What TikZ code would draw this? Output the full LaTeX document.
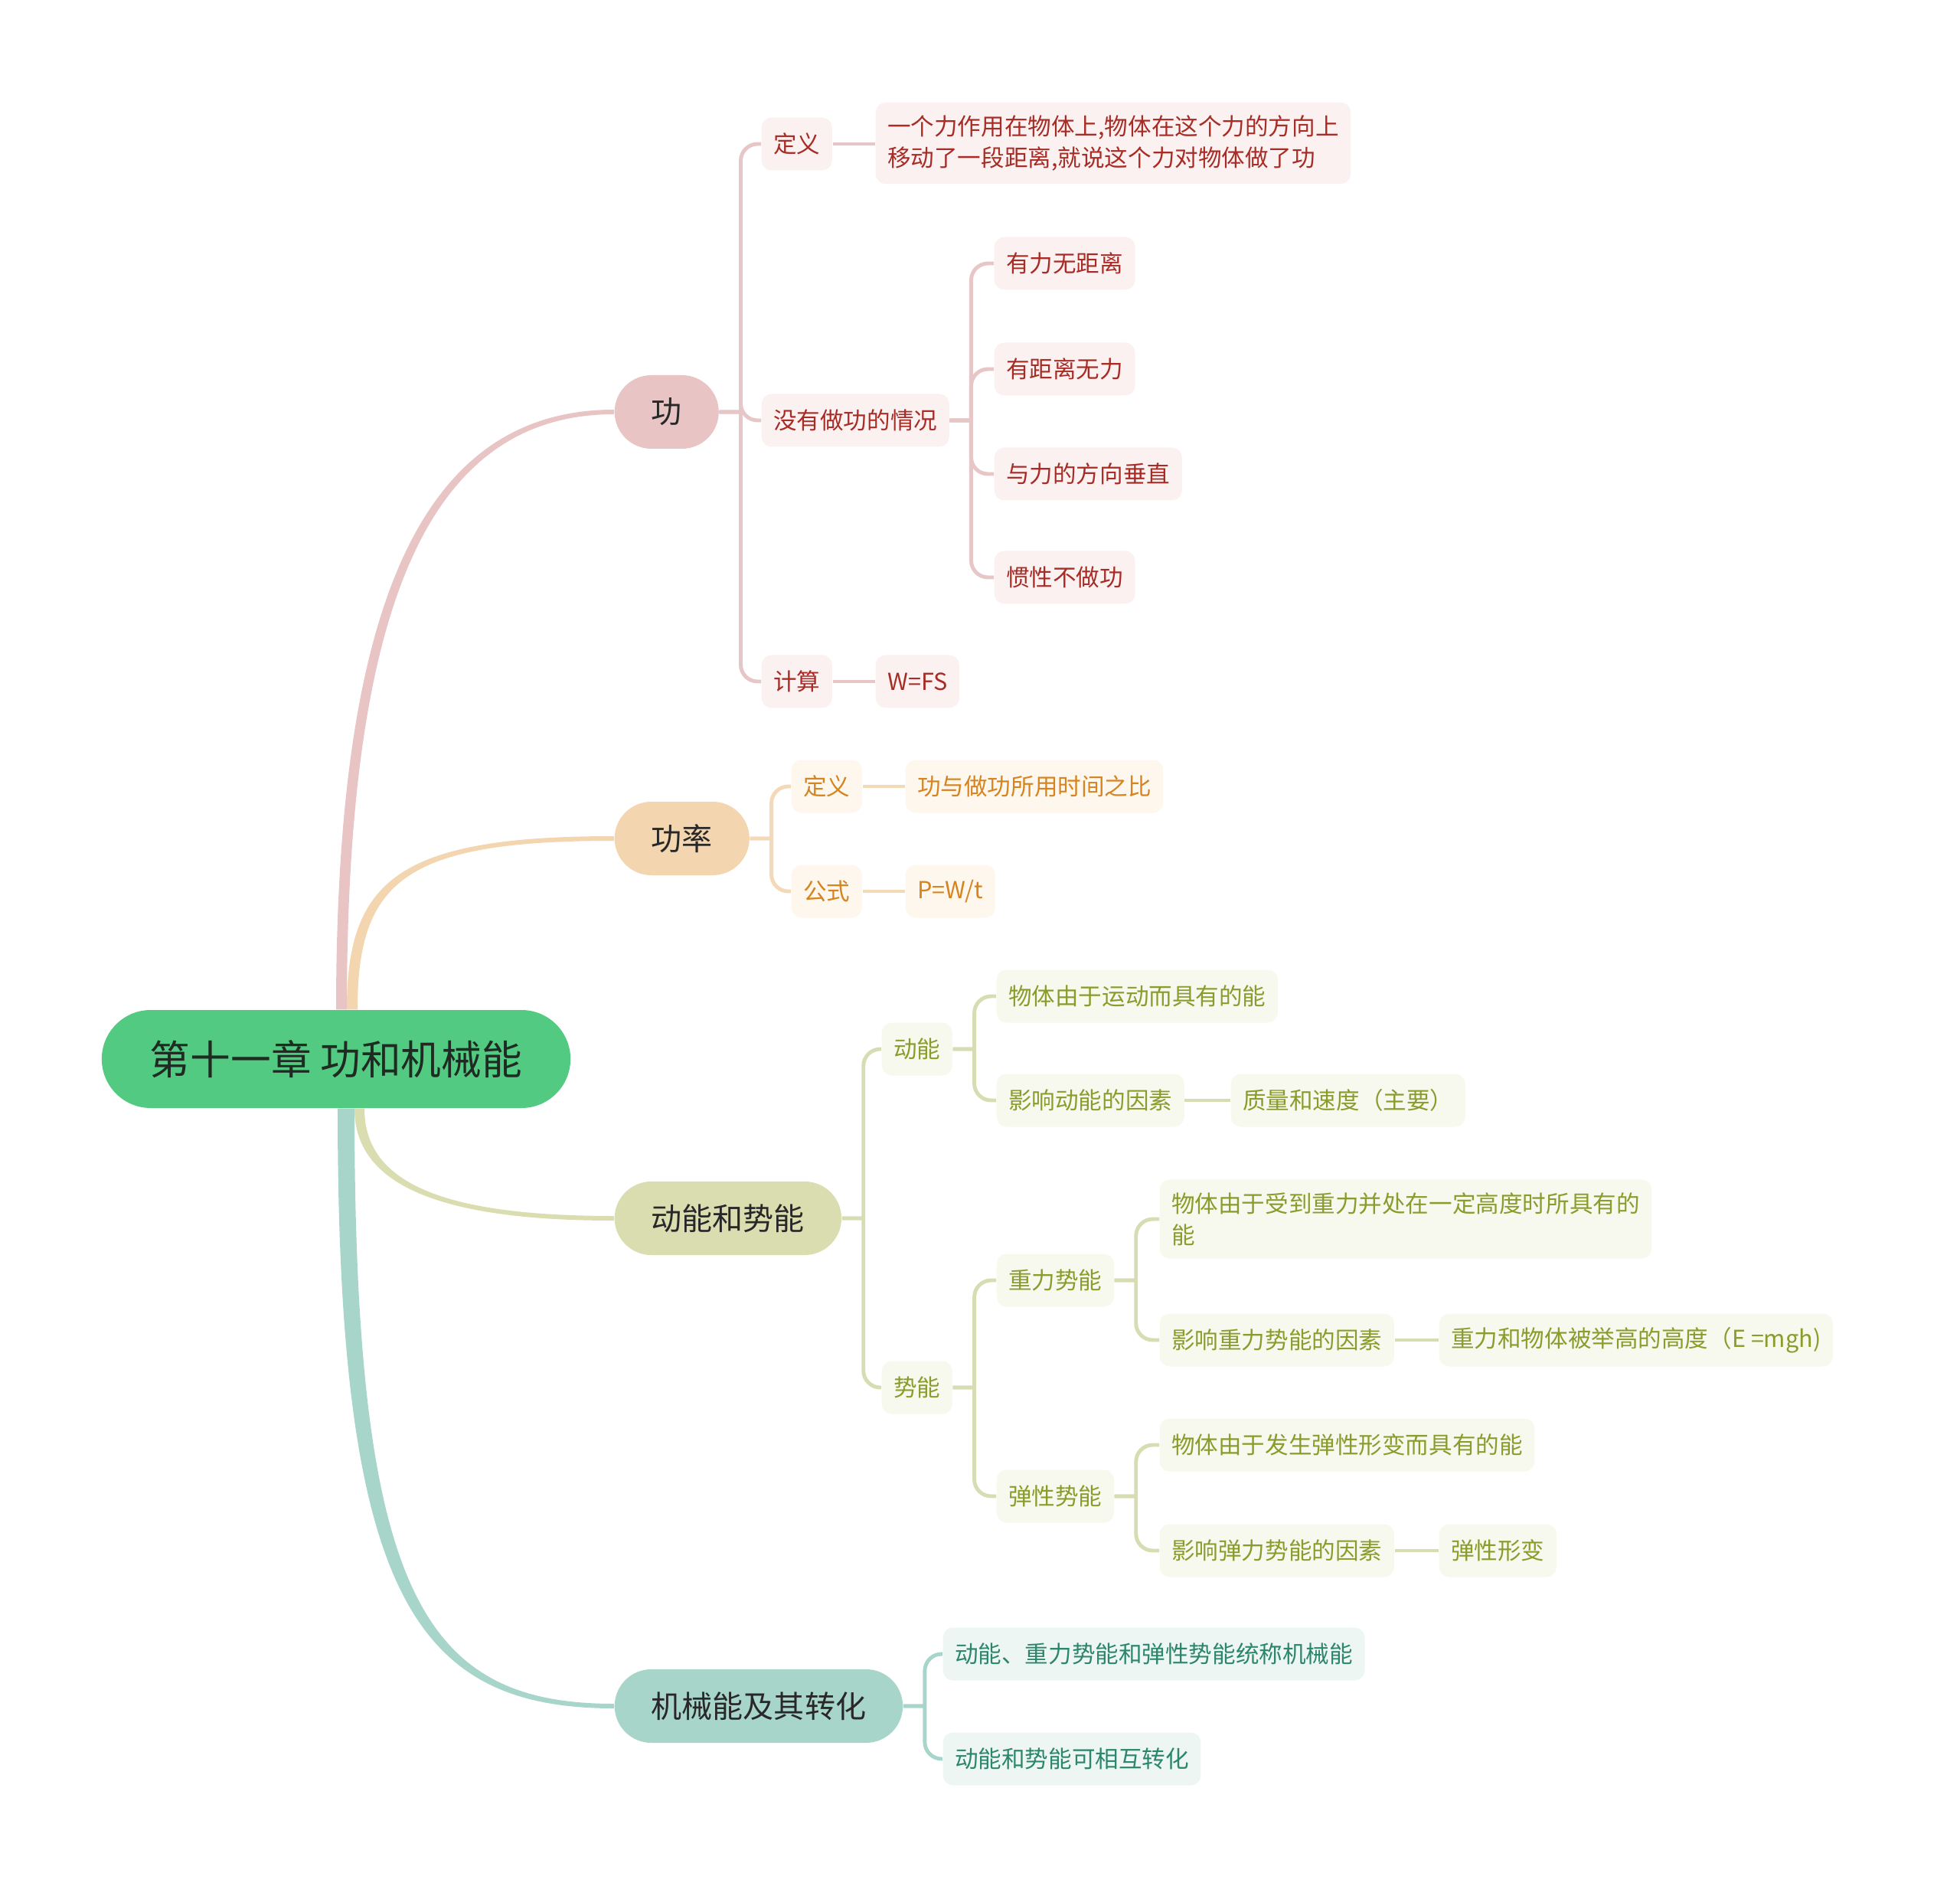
\documentclass[tikz,border=0pt]{standalone}
\usepackage{fontspec}
\setmainfont{Noto Sans CJK SC}
\definecolor{rootbg}{RGB}{83,202,129}
\definecolor{rootink}{RGB}{30,42,34}
\definecolor{topink}{RGB}{40,40,40}
\definecolor{gongtop}{RGB}{232,196,196}
\definecolor{gongbg}{RGB}{251,241,241}
\definecolor{gongln}{RGB}{230,198,198}
\definecolor{gongink}{RGB}{168,44,38}
\definecolor{powtop}{RGB}{243,214,176}
\definecolor{powbg}{RGB}{254,247,237}
\definecolor{powln}{RGB}{243,217,184}
\definecolor{powink}{RGB}{214,132,32}
\definecolor{engtop}{RGB}{218,221,176}
\definecolor{engbg}{RGB}{247,248,238}
\definecolor{engln}{RGB}{216,220,178}
\definecolor{engink}{RGB}{138,156,44}
\definecolor{mechtop}{RGB}{168,213,202}
\definecolor{mechbg}{RGB}{237,246,243}
\definecolor{mechln}{RGB}{168,213,202}
\definecolor{mechink}{RGB}{44,134,108}
\usetikzlibrary{positioning}
\tikzset{
  root/.style={fill=rootbg, text=rootink, rounded corners=0.64cm, minimum height=1.28cm,
    inner xsep=0.63cm, font=\fontsize{15}{18}\selectfont},
  topic/.style={anchor=west, text=topink, rounded corners=0.48cm, minimum height=0.96cm,
    inner xsep=0.48cm, font=\fontsize{11.4}{14}\selectfont},
  leaf/.style={anchor=west, align=left, rounded corners=0.13cm, minimum height=0.69cm,
    inner xsep=0.155cm, inner ysep=0.17cm},
  gleaf/.style={leaf, fill=gongbg, text=gongink},
  pleaf/.style={leaf, fill=powbg, text=powink},
  eleaf/.style={leaf, fill=engbg, text=engink},
  mleaf/.style={leaf, fill=mechbg, text=mechink},
  branch/.style={to path={-- ++(0.28,0) ++(0,0) [rounded corners=0.22cm] |- (\tikztotarget)}},
  link/.style={line width=1.4pt},
}
\begin{document}
\begin{tikzpicture}[font=\fontsize{8.7}{11.6}\selectfont]
\useasboundingbox (0,0) rectangle (25.60,-24.63);

% centre and the four topics
\node[root] (root) at (4.39,-13.83) {第十一章 功和机械能};
\node[topic, fill=gongtop] (gong) at (8.02,-5.38) {功};
\node[topic, fill=powtop] (pow) at (8.02,-10.95) {功率};
\node[topic, fill=engtop] (eng) at (8.02,-15.91) {动能和势能};
\node[topic, fill=mechtop] (mech) at (8.02,-22.28) {机械能及其转化};

% tapered main branches
\fill[gongtop] ([xshift=0.00cm]root.north) .. controls +(0,5.03) and +(-2.63,0) .. ([yshift=0.03cm]gong.west)
  -- ([yshift=-0.03cm]gong.west) .. controls +(-2.53,0) and +(0,5.03) .. ([xshift=0.14cm]root.north) -- cycle;
\fill[powtop] ([xshift=0.14cm]root.north) .. controls +(0,1.69) and +(-2.82,0) .. ([yshift=0.03cm]pow.west)
  -- ([yshift=-0.03cm]pow.west) .. controls +(-2.72,0) and +(0,1.69) .. ([xshift=0.28cm]root.north) -- cycle;
\fill[mechtop] ([xshift=0.02cm]root.south) .. controls +(0,-6.33) and +(-2.62,0) .. ([yshift=-0.03cm]mech.west)
  -- ([yshift=0.03cm]mech.west) .. controls +(-2.50,0) and +(0,-6.33) .. ([xshift=0.24cm]root.south) -- cycle;
\fill[engtop] ([xshift=0.24cm]root.south) .. controls +(0,-0.98) and +(-2.32,0) .. ([yshift=-0.03cm]eng.west)
  -- ([yshift=0.03cm]eng.west) .. controls +(-2.22,0) and +(0,-0.98) .. ([xshift=0.37cm]root.south) -- cycle;

% 功
\node[gleaf] (gdef) at (9.94,-1.88) {定义};
\node[gleaf] (gdeft) at (11.43,-1.87) {一个力作用在物体上,物体在这个力的方向上\\移动了一段距离,就说这个力对物体做了功};
\node[gleaf] (gno) at (9.94,-5.49) {没有做功的情况};
\node[gleaf] (gno1) at (12.98,-3.44) {有力无距离};
\node[gleaf] (gno2) at (12.98,-4.82) {有距离无力};
\node[gleaf] (gno3) at (12.98,-6.19) {与力的方向垂直};
\node[gleaf] (gno4) at (12.98,-7.54) {惯性不做功};
\node[gleaf] (gcal) at (9.94,-8.90) {计算};
\node[gleaf] (gcalt) at (11.43,-8.90) {W=FS};
\draw[link, gongln] (gong.east) to[branch] (gdef.west);
\draw[link, gongln] (gong.east) to[branch] (gno.west);
\draw[link, gongln] (gong.east) to[branch] (gcal.west);
\draw[link, gongln] (gdef.east) -- (gdef.east -| gdeft.west);
\draw[link, gongln] (gno.east) to[branch] (gno1.west);
\draw[link, gongln] (gno.east) to[branch] (gno2.west);
\draw[link, gongln] (gno.east) to[branch] (gno3.west);
\draw[link, gongln] (gno.east) to[branch] (gno4.west);
\draw[link, gongln] (gcal.east) -- (gcalt.west);

% 功率
\node[pleaf] (pdef) at (10.33,-10.27) {定义};
\node[pleaf] (pdeft) at (11.82,-10.27) {功与做功所用时间之比};
\node[pleaf] (pfor) at (10.33,-11.64) {公式};
\node[pleaf] (pfort) at (11.82,-11.64) {P=W/t};
\draw[link, powln] (pow.east) to[branch] (pdef.west);
\draw[link, powln] (pow.east) to[branch] (pfor.west);
\draw[link, powln] (pdef.east) -- (pdeft.west);
\draw[link, powln] (pfor.east) -- (pfort.west);

% 动能和势能
\node[eleaf] (ekin) at (11.51,-13.70) {动能};
\node[eleaf] (ekin1) at (13.01,-13.01) {物体由于运动而具有的能};
\node[eleaf] (ekin2) at (13.01,-14.37) {影响动能的因素};
\node[eleaf] (ekin2t) at (16.07,-14.37) {质量和速度（主要）};
\node[eleaf] (epot) at (11.51,-18.12) {势能};
\node[eleaf] (egra) at (13.01,-16.72) {重力势能};
\node[eleaf] (egra1) at (15.14,-15.92) {物体由于受到重力并处在一定高度时所具有的\\能};
\node[eleaf] (egra2) at (15.14,-17.50) {影响重力势能的因素};
\node[eleaf] (egra2t) at (18.79,-17.50) {重力和物体被举高的高度（E =mgh)};
\node[eleaf] (eela) at (13.01,-19.54) {弹性势能};
\node[eleaf] (eela1) at (15.14,-18.87) {物体由于发生弹性形变而具有的能};
\node[eleaf] (eela2) at (15.14,-20.25) {影响弹力势能的因素};
\node[eleaf] (eela2t) at (18.79,-20.25) {弹性形变};
\draw[link, engln] (eng.east) to[branch] (ekin.west);
\draw[link, engln] (eng.east) to[branch] (epot.west);
\draw[link, engln] (ekin.east) to[branch] (ekin1.west);
\draw[link, engln] (ekin.east) to[branch] (ekin2.west);
\draw[link, engln] (ekin2.east) -- (ekin2t.west);
\draw[link, engln] (epot.east) to[branch] (egra.west);
\draw[link, engln] (epot.east) to[branch] (eela.west);
\draw[link, engln] (egra.east) to[branch] (egra1.west);
\draw[link, engln] (egra.east) to[branch] (egra2.west);
\draw[link, engln] (egra2.east) -- (egra2t.west);
\draw[link, engln] (eela.east) to[branch] (eela1.west);
\draw[link, engln] (eela.east) to[branch] (eela2.west);
\draw[link, engln] (eela2.east) -- (eela2t.west);

% 机械能及其转化
\node[mleaf] (mech1) at (12.31,-21.60) {动能、重力势能和弹性势能统称机械能};
\node[mleaf] (mech2) at (12.31,-22.97) {动能和势能可相互转化};
\draw[link, mechln] (mech.east) to[branch] (mech1.west);
\draw[link, mechln] (mech.east) to[branch] (mech2.west);
\end{tikzpicture}
\end{document}
